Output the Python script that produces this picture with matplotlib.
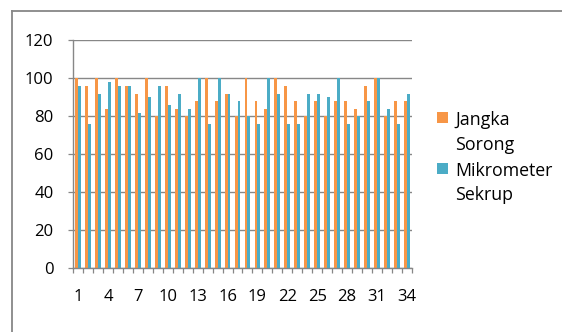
import numpy as np
import matplotlib
matplotlib.use("Agg")
import matplotlib.pyplot as plt
from matplotlib.lines import Line2D
from matplotlib.patches import Rectangle
from matplotlib.ticker import FixedLocator

plt.rcParams['font.family'] = ['Open Sans', 'DejaVu Sans']

# Data
categories = [str(i) for i in range(1, 35)]
jangka_sorong = [100, 96, 100, 84, 100, 96, 92, 100, 80, 96, 84, 80,
                 88, 100, 88, 92, 80, 100, 88, 84, 100, 96, 88, 80,
                 88, 80, 88, 88, 84, 96, 100, 80, 88, 88]
mikrometer_sekrup = [96, 76, 92, 98, 96, 96, 82, 90, 96, 86, 92, 84,
                     100, 76, 100, 92, 88, 80, 76, 100, 92, 76, 76, 92,
                     92, 90, 100, 76, 80, 88, 100, 84, 76, 92]
series_names = ["Jangka\nSorong", "Mikrometer\nSekrup"]
y_ticks = [0, 20, 40, 60, 80, 100, 120]

ORANGE = "#F79646"
BLUE = "#4BACC6"
GRAY = "#878787"

W, H = 562, 332
fig = plt.figure(figsize=(W / 100, H / 100), dpi=100)
fig.patch.set_facecolor("white")

# chart-area frame (runs off the right and bottom edges)
fig.add_artist(Line2D([11.5 / W, 11.5 / W], [0, 1 - 10.5 / H], color=GRAY, lw=1.3))
fig.add_artist(Line2D([11.5 / W, 1], [1 - 10.5 / H, 1 - 10.5 / H], color=GRAY, lw=1.3))

ax = fig.add_axes([73.3 / W, (H - 268.3) / H, 338.4 / W, 228 / H])

x = np.arange(len(categories))
bw = 0.29
ax.bar(x - bw / 2, jangka_sorong, width=bw, color=ORANGE, linewidth=0, zorder=2)
ax.bar(x + bw / 2, mikrometer_sekrup, width=bw, color=BLUE, linewidth=0, zorder=2)

ax.set_xlim(-0.5, len(categories) - 0.5)
ax.set_ylim(0, 120)
ax.set_yticks(y_ticks)
ax.set_yticklabels([str(v) for v in y_ticks])

label_idx = list(range(0, len(categories), 3))
ax.xaxis.set_major_locator(FixedLocator(label_idx))
ax.set_xticklabels([categories[i] for i in label_idx])
ax.xaxis.set_minor_locator(FixedLocator(np.arange(-0.5, len(categories), 1.0)))

ax.tick_params(axis='x', which='major', length=0, pad=15, labelsize=12, colors='black')
ax.tick_params(axis='x', which='minor', length=3.5, width=0.9, color=GRAY, direction='out')
ax.tick_params(axis='y', which='major', length=3.8, width=0.9, color=GRAY,
               direction='out', pad=10.5, labelsize=12, labelcolor='black')

ax.grid(axis='y', color=GRAY, linewidth=1.0, zorder=0)
ax.set_axisbelow(True)
for s in ("top", "right"):
    ax.spines[s].set_visible(False)
for s in ("left", "bottom"):
    ax.spines[s].set_color(GRAY)
    ax.spines[s].set_linewidth(1.0)

# legend: square key beside a two-line label
def legend_entry(color, name, key_top, base1, base2):
    fig.add_artist(Rectangle((436.7 / W, 1 - (key_top + 11) / H), 11 / W, 11 / H,
                             transform=fig.transFigure, color=color, lw=0))
    l1, l2 = name.split("\n")
    fig.text(455 / W, 1 - base1 / H, l1, fontsize=12.8, va='baseline', ha='left')
    fig.text(455 / W, 1 - base2 / H, l2, fontsize=12.8, va='baseline', ha='left')

legend_entry(ORANGE, series_names[0], 111.7, 125.3, 149.5)
legend_entry(BLUE, series_names[1], 163.3, 175.8, 200.5)

fig.savefig("out.png", dpi=100, facecolor="white")
